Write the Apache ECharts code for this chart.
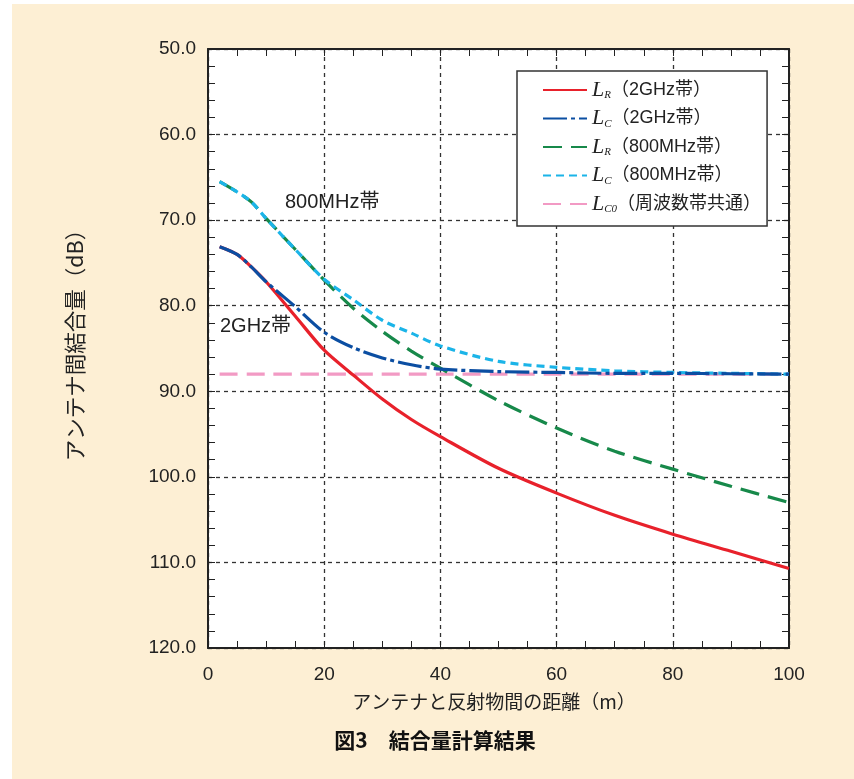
<!DOCTYPE html>
<html>
<head>
<meta charset="utf-8">
<script src="https://cdn.jsdelivr.net/npm/echarts@6/dist/echarts.min.js"></script>
<style>
html,body{margin:0;padding:0;background:#ffffff;width:854px;height:779px;overflow:hidden;}
#bg{position:absolute;left:12px;top:4px;right:0;bottom:0;background:#fdefd4;}
#chart{position:absolute;left:0;top:0;width:854px;height:779px;}
</style>
</head>
<body>
<div id="bg"></div>
<div id="chart"></div>
<script>
// ---- data ----
const distance = [2, 5, 7.5, 10, 15, 20, 25, 30, 35, 40, 50, 60, 70, 80, 90, 100];
const lr2g  = [73.1, 74.0, 75.5, 77.2, 81.2, 85.2, 88.1, 90.9, 93.3, 95.3, 99.0, 101.9, 104.5, 106.7, 108.7, 110.7];
const lc2g  = [73.1, 74.0, 75.5, 77.2, 80.1, 83.1, 84.9, 86.1, 86.9, 87.4, 87.7, 87.8, 87.9, 87.9, 87.95, 88.0];
const lr800 = [65.5, 66.7, 67.9, 69.8, 73.4, 77.0, 80.3, 83.0, 85.3, 87.3, 91.1, 94.3, 97.0, 99.1, 101.1, 103.0];
const lc800 = [65.5, 66.7, 67.9, 69.8, 73.4, 76.9, 79.3, 81.7, 83.2, 84.7, 86.5, 87.2, 87.6, 87.8, 87.9, 88.0];
const lc0   = [88.0, 88.0, 88.0, 88.0, 88.0, 88.0, 88.0, 88.0, 88.0, 88.0, 88.0, 88.0, 88.0, 88.0, 88.0, 88.0];

const xTicks = [0, 20, 40, 60, 80, 100];
const yTicks = [50, 60, 70, 80, 90, 100, 110, 120];

const seriesNames = ['LR_2G', 'LC_2G', 'LR_800', 'LC_800', 'LC0'];
const legendLabels = {
  'LR_2G':  ['L', 'R', '（2GHz帯）'],
  'LC_2G':  ['L', 'C', '（2GHz帯）'],
  'LR_800': ['L', 'R', '（800MHz帯）'],
  'LC_800': ['L', 'C', '（800MHz帯）'],
  'LC0':    ['L', 'C0', '（周波数帯共通）']
};
const annotations = [
  {text: '800MHz帯'},
  {text: '2GHz帯'}
];
const xTitle = 'アンテナと反射物間の距離（m）';
const yTitle = 'アンテナ間結合量（dB）';
const caption = '図3　結合量計算結果';

function pairs(xs, ys){ return xs.map((x,i)=>[x, ys[i]]); }

const chart = echarts.init(document.getElementById('chart'), null, {renderer:'canvas'});

const sansFont = '"Liberation Sans", Arial, "Noto Sans CJK JP", sans-serif';
const cjkFont = '"Noto Sans CJK JP", sans-serif';
const mixFont = '"Liberation Sans", "Noto Sans CJK JP", sans-serif';
const axisColor = '#222';

function lineSeries(name, data, color, dash, z){
  return {
    name: name, type: 'line', data: data,
    xAxisIndex: 0, yAxisIndex: 0,
    showSymbol: false, symbol: 'none',
    smooth: 0.3,
    z: z,
    lineStyle: {color: color, width: 3.2, type: dash, cap: 'butt'},
    itemStyle: {color: color},
    emphasis: {disabled: true}
  };
}

const commonTickX = {
  type: 'value', min: 0, max: 100, interval: 20
};
const commonTickY = {
  type: 'value', min: 50, max: 120, interval: 10, inverse: true
};

const option = {
  animation: false,
  backgroundColor: 'transparent',
  grid: {left: 208, top: 49, right: 65, bottom: 131, show: true, backgroundColor: '#ffffff', borderWidth: 0},
  xAxis: [
    Object.assign({}, commonTickX, {
      position: 'bottom',
      axisLine: {show: true, lineStyle: {color: axisColor, width: 2}},
      axisTick: {show: true, inside: true, length: 7, lineStyle: {color: axisColor, width: 1}},
      minorTick: {show: true, splitNumber: 4, length: 7, lineStyle: {color: axisColor, width: 1}},
      axisLabel: {show: true, color: axisColor, fontFamily: sansFont, fontSize: 19, margin: 17,
        formatter: v => xTicks.includes(v) ? String(v) : ''},
      splitLine: {show: true, lineStyle: {color: '#333', width: 1.3, type: [4, 4]}},
      minorSplitLine: {show: false}
    }),
    Object.assign({}, commonTickX, {
      position: 'top',
      axisLine: {show: true, lineStyle: {color: axisColor, width: 2}},
      axisTick: {show: true, inside: true, length: 7, lineStyle: {color: axisColor, width: 1}},
      minorTick: {show: true, splitNumber: 4, length: 7, lineStyle: {color: axisColor, width: 1}},
      axisLabel: {show: false},
      splitLine: {show: false}
    })
  ],
  yAxis: [
    Object.assign({}, commonTickY, {
      position: 'left',
      axisLine: {show: true, onZero: false, lineStyle: {color: axisColor, width: 2}},
      axisTick: {show: true, inside: true, length: 7, lineStyle: {color: axisColor, width: 1}},
      minorTick: {show: true, splitNumber: 5, length: 7, lineStyle: {color: axisColor, width: 1}},
      axisLabel: {show: true, color: axisColor, fontFamily: sansFont, fontSize: 19, margin: 12,
        formatter: v => yTicks.includes(v) ? v.toFixed(1) : ''},
      splitLine: {show: true, lineStyle: {color: '#333', width: 1.3, type: [4, 4]}}
    }),
    Object.assign({}, commonTickY, {
      position: 'right',
      axisLine: {show: true, onZero: false, lineStyle: {color: axisColor, width: 2}},
      axisTick: {show: true, inside: true, length: 7, lineStyle: {color: axisColor, width: 1}},
      minorTick: {show: true, splitNumber: 5, length: 7, lineStyle: {color: axisColor, width: 1}},
      axisLabel: {show: false},
      splitLine: {show: false}
    })
  ],
  legend: {
    show: true,
    orient: 'vertical',
    left: 517, top: 71,
    data: seriesNames,
    backgroundColor: '#ffffff',
    borderColor: '#333', borderWidth: 1.5, borderRadius: 0,
    padding: [8, 6, 11, 25],
    itemWidth: 44, itemHeight: 14, itemGap: 6.5,
    selectedMode: false,
    itemStyle: {opacity: 0},
    formatter: function(name){
      const p = legendLabels[name];
      return '{it|' + p[0] + '}{sub|' + p[1] + '}{txt|' + p[2] + '}';
    },
    textStyle: {
      color: '#222',
      rich: {
        it: {fontFamily: '"Liberation Serif", "Times New Roman", serif', fontStyle: 'italic', fontSize: 22, lineHeight: 22, color: '#222'},
        sub: {fontFamily: '"Liberation Serif", "Times New Roman", serif', fontStyle: 'italic', fontSize: 11, lineHeight: 9, verticalAlign: 'bottom', color: '#222'},
        txt: {fontFamily: mixFont, fontSize: 18, lineHeight: 22, color: '#222'}
      }
    }
  },
  series: [
    lineSeries('LC0', pairs(distance, lc0), '#f29ac4', [18, 9], 2),
    lineSeries('LR_2G', pairs(distance, lr2g), '#e8212b', 'solid', 3),
    lineSeries('LR_800', pairs(distance, lr800), '#17894a', [19, 9], 4),
    lineSeries('LC_800', pairs(distance, lc800), '#1bb4e8', [8, 5], 5),
    lineSeries('LC_2G', pairs(distance, lc2g), '#0b4ea2', [24, 4, 4, 4], 6)
  ],
  graphic: [
    {type: 'text', x: 285, y: 202, z: 100,
      style: {text: annotations[0].text, fill: '#222', fontFamily: sansFont, fontSize: 20, align: 'left', verticalAlign: 'middle'}},
    {type: 'text', x: 220, y: 326, z: 100,
      style: {text: annotations[1].text, fill: '#222', fontFamily: sansFont, fontSize: 20, align: 'left', verticalAlign: 'middle'}},
    {type: 'text', x: 494, y: 702, z: 100,
      style: {text: xTitle, fill: '#222', fontFamily: cjkFont, fontSize: 19, align: 'center', verticalAlign: 'middle'}},
    {type: 'text', x: 75, y: 340, rotation: Math.PI / 2, z: 100,
      style: {text: yTitle, fill: '#222', fontFamily: cjkFont, fontSize: 21.5, align: 'center', verticalAlign: 'middle'}},
    {type: 'text', x: 435, y: 740, z: 100,
      style: {text: caption, fill: '#111', fontFamily: cjkFont, fontWeight: 'bold', fontSize: 21, align: 'center', verticalAlign: 'middle'}}
  ]
};

chart.setOption(option);
</script>
</body>
</html>
